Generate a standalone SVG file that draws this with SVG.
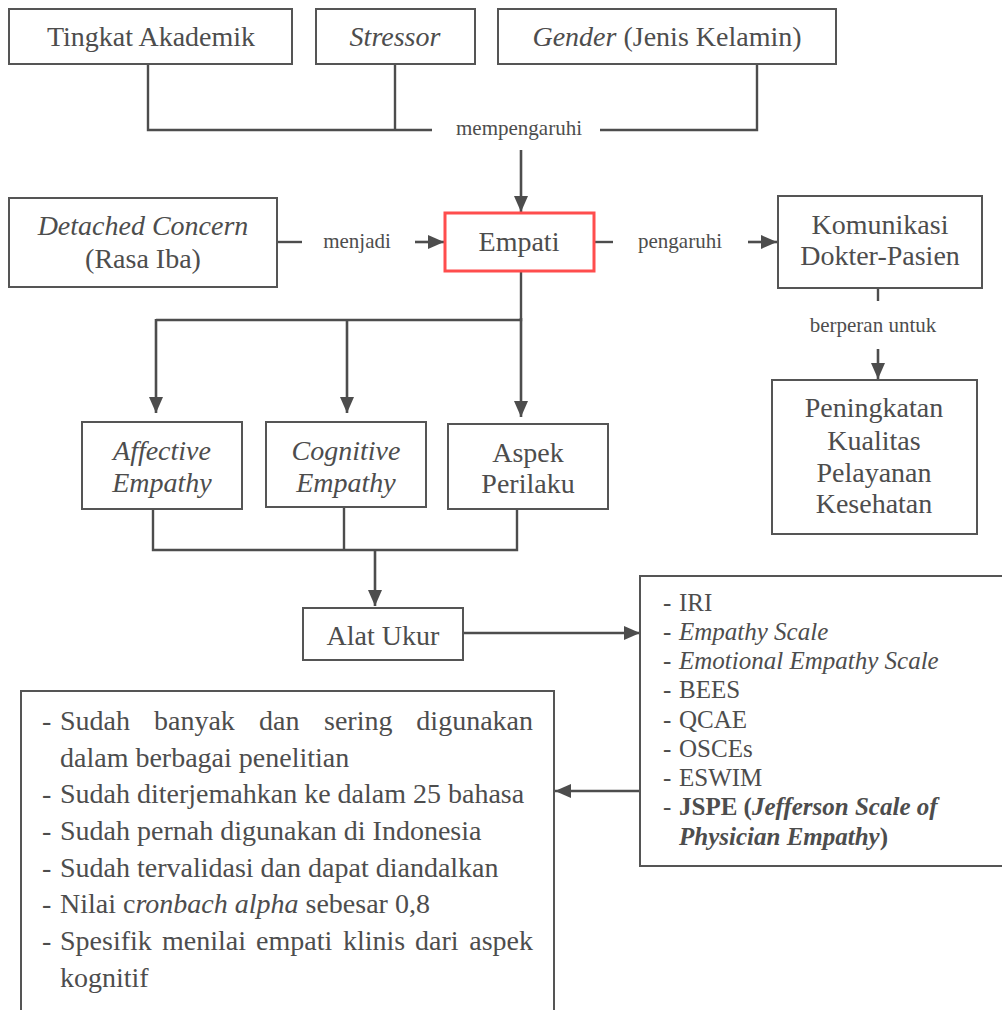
<svg xmlns="http://www.w3.org/2000/svg" width="1002" height="1010" viewBox="0 0 1002 1010">
<defs>
<marker id="ah" markerUnits="userSpaceOnUse" markerWidth="16" markerHeight="14" refX="16" refY="7" orient="auto" viewBox="0 0 16 14">
<path d="M0,0 L16,7 L0,14 z" fill="#4d4d4d"/>
</marker>
</defs>
<rect width="1002" height="1010" fill="#fff"/>
<g id="connectors" fill="none" stroke="#4d4d4d" stroke-width="2.4">
<polyline points="148,64 148,130 432,130"/>
<line x1="395" y1="64" x2="395" y2="130"/>
<polyline points="600,130 757,130 757,64"/>
<line x1="277" y1="242" x2="302" y2="242"/>
<line x1="594" y1="242" x2="613" y2="242"/>
<line x1="878" y1="288" x2="878" y2="301"/>
<polyline points="521,272 521,320 156,320"/>
<polyline points="153,509 153,550 517,550 517,509"/>
<line x1="344" y1="507" x2="344" y2="550"/>
<g stroke-width="2.6" marker-end="url(#ah)">
<line x1="521" y1="150" x2="521" y2="212"/>
<line x1="415" y1="242" x2="444" y2="242"/>
<line x1="748" y1="242" x2="777" y2="242"/>
<line x1="878" y1="349" x2="878" y2="379"/>
<line x1="521" y1="318" x2="521" y2="417"/>
<line x1="156" y1="319" x2="156" y2="413"/>
<line x1="347" y1="319" x2="347" y2="413"/>
<line x1="375" y1="549" x2="375" y2="606"/>
<line x1="463" y1="633" x2="640" y2="633"/>
<line x1="640" y1="791" x2="555" y2="791"/>
</g>
<g font-family="Liberation Serif" font-size="21" fill="#4d4d4d" stroke="none" text-anchor="middle">
<text x="519" y="135">mempengaruhi</text>
<text x="357" y="248">menjadi</text>
<text x="680" y="248">pengaruhi</text>
<text x="873" y="332">berperan untuk</text>
</g>
</g>
<g font-family="Liberation Serif" font-size="28" fill="#4d4d4d" text-anchor="middle">
<g id="n-tingkat"><rect fill="#fff" stroke="#555" stroke-width="2" x="9" y="9" width="283" height="55"/><text x="151" y="46">Tingkat Akademik</text></g>
<g id="n-stressor"><rect fill="#fff" stroke="#555" stroke-width="2" x="316" y="9" width="159" height="55"/><text x="395" y="46" font-style="italic">Stressor</text></g>
<g id="n-gender"><rect fill="#fff" stroke="#555" stroke-width="2" x="498" y="9" width="338" height="55"/><text x="667" y="46"><tspan font-style="italic">Gender</tspan> (Jenis Kelamin)</text></g>
<g id="n-detached"><rect fill="#fff" stroke="#555" stroke-width="2" x="9" y="198" width="268" height="89"/><text x="143" y="235" font-style="italic">Detached Concern</text><text x="143" y="268">(Rasa Iba)</text></g>
<g id="n-empati"><rect fill="#fff" stroke="#ff4d4d" stroke-width="3" x="445" y="213" width="149" height="58"/><text x="519" y="251">Empati</text></g>
<g id="n-komunikasi"><rect fill="#fff" stroke="#555" stroke-width="2" x="778" y="196" width="204" height="92"/><text x="880" y="234">Komunikasi</text><text x="880" y="265">Dokter-Pasien</text></g>
<g id="n-peningkatan"><rect fill="#fff" stroke="#555" stroke-width="2" x="772" y="380" width="205" height="154"/><text x="874" y="417">Peningkatan</text><text x="874" y="450">Kualitas</text><text x="874" y="482">Pelayanan</text><text x="874" y="513">Kesehatan</text></g>
<g id="n-affective"><rect fill="#fff" stroke="#555" stroke-width="2" x="82" y="422" width="160" height="87"/><text x="162" y="460" font-style="italic">Affective</text><text x="162" y="492" font-style="italic">Empathy</text></g>
<g id="n-cognitive"><rect fill="#fff" stroke="#555" stroke-width="2" x="266" y="422" width="160" height="85"/><text x="346" y="460" font-style="italic">Cognitive</text><text x="346" y="492" font-style="italic">Empathy</text></g>
<g id="n-aspek"><rect fill="#fff" stroke="#555" stroke-width="2" x="448" y="424" width="160" height="85"/><text x="528" y="462">Aspek</text><text x="528" y="493">Perilaku</text></g>
<g id="n-alat"><rect fill="#fff" stroke="#555" stroke-width="2" x="303" y="608" width="160" height="52"/><text x="383" y="645">Alat Ukur</text></g>
</g>
<g id="n-instrumen" font-family="Liberation Serif" font-size="25" fill="#4d4d4d">
<rect fill="#fff" stroke="#555" stroke-width="2" x="640" y="576" width="400" height="290"/>
<text x="663" y="611">-</text><text x="679" y="611">IRI</text>
<text x="663" y="640">-</text><text x="679" y="640" font-style="italic">Empathy Scale</text>
<text x="663" y="669">-</text><text x="679" y="669" font-style="italic">Emotional Empathy Scale</text>
<text x="663" y="698">-</text><text x="679" y="698">BEES</text>
<text x="663" y="728">-</text><text x="679" y="728">QCAE</text>
<text x="663" y="757">-</text><text x="679" y="757">OSCEs</text>
<text x="663" y="786">-</text><text x="679" y="786">ESWIM</text>
<text x="663" y="815">-</text><text x="679" y="815" font-weight="bold">JSPE (<tspan font-style="italic">Jefferson Scale of</tspan></text>
<text x="679" y="845" font-weight="bold"><tspan font-style="italic">Physician Empathy</tspan>)</text>
</g>
<g id="n-keunggulan" font-family="Liberation Serif" font-size="28" fill="#4d4d4d">
<rect fill="#fff" stroke="#555" stroke-width="2" x="21" y="691" width="533" height="340"/>
<text x="42" y="730">-</text><text y="730"><tspan x="60">Sudah</tspan><tspan x="154">banyak</tspan><tspan x="259">dan</tspan><tspan x="324">sering</tspan></text><text x="533" y="730" text-anchor="end">digunakan</text>
<text x="60" y="767">dalam berbagai penelitian</text>
<text x="42" y="803">-</text><text x="60" y="803">Sudah diterjemahkan ke dalam 25 bahasa</text>
<text x="42" y="840">-</text><text x="60" y="840">Sudah pernah digunakan di Indonesia</text>
<text x="42" y="877">-</text><text x="60" y="877">Sudah tervalidasi dan dapat diandalkan</text>
<text x="42" y="913">-</text><text x="60" y="913">Nilai c<tspan font-style="italic">ronbach alpha</tspan> sebesar 0,8</text>
<text x="42" y="950">-</text><text y="950"><tspan x="60">Spesifik</tspan><tspan x="162">menilai</tspan><tspan x="256">empati</tspan><tspan x="343">klinis</tspan><tspan x="415">dari</tspan></text><text x="533" y="950" text-anchor="end">aspek</text>
<text x="60" y="987">kognitif</text>
</g>
</svg>
